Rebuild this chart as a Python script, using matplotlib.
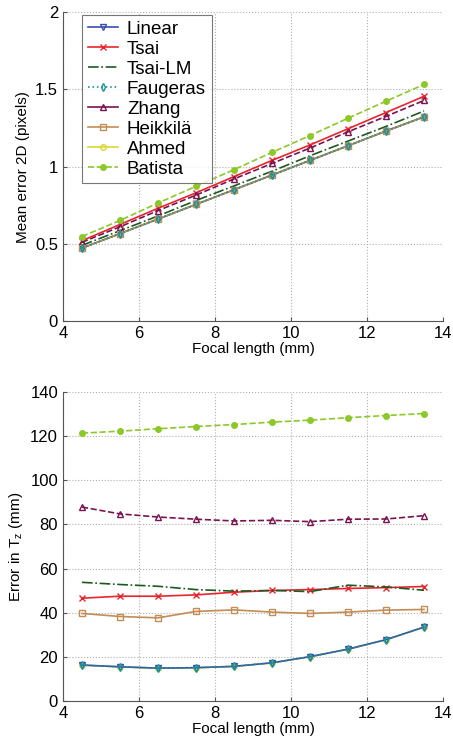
import matplotlib
import matplotlib.pyplot as plt
from matplotlib.lines import Line2D

matplotlib.use("Agg")

plt.rcParams["font.family"] = ["Liberation Sans", "DejaVu Sans"]

focal = [4.5, 5.5, 6.5, 7.5, 8.5, 9.5, 10.5, 11.5, 12.5, 13.5]
methods = ["Linear", "Tsai", "Tsai-LM", "Faugeras", "Zhang", "Heikkilä", "Ahmed", "Batista"]

# mean 2D error (pixels)
err2d_linear = [0.472, 0.566, 0.660, 0.755, 0.850, 0.945, 1.040, 1.135, 1.230, 1.322]
err2d_tsai = [0.520, 0.625, 0.730, 0.830, 0.935, 1.040, 1.140, 1.245, 1.350, 1.455]
err2d_tsailm = [0.490, 0.585, 0.680, 0.780, 0.875, 0.970, 1.070, 1.165, 1.260, 1.360]
err2d_faugeras = [0.472, 0.566, 0.660, 0.755, 0.850, 0.945, 1.040, 1.135, 1.230, 1.322]
err2d_zhang = [0.510, 0.610, 0.715, 0.815, 0.920, 1.020, 1.120, 1.225, 1.325, 1.428]
err2d_heikkila = [0.472, 0.566, 0.660, 0.755, 0.850, 0.945, 1.040, 1.135, 1.230, 1.322]
err2d_ahmed = [0.472, 0.566, 0.660, 0.755, 0.850, 0.945, 1.040, 1.135, 1.230, 1.322]
err2d_batista = [0.547, 0.651, 0.764, 0.872, 0.980, 1.092, 1.201, 1.313, 1.423, 1.532]

# error in Tz (mm)
tz_linear = [16.3, 15.5, 14.9, 15.1, 15.7, 17.3, 20.1, 23.5, 27.8, 33.5]
tz_tsai = [46.6, 47.5, 47.5, 48.1, 49.3, 50.1, 50.5, 51.0, 51.4, 51.9]
tz_tsailm = [53.8, 52.8, 52.0, 50.5, 49.8, 50.1, 49.6, 52.5, 51.7, 50.2]
tz_faugeras = [16.3, 15.5, 14.9, 15.1, 15.7, 17.3, 20.1, 23.5, 27.8, 33.5]
tz_zhang = [87.9, 84.8, 83.4, 82.4, 81.6, 81.9, 81.3, 82.4, 82.5, 84.0]
tz_heikkila = [39.7, 38.3, 37.7, 40.6, 41.3, 40.3, 39.7, 40.3, 41.2, 41.5]
tz_ahmed = [16.3, 15.5, 14.9, 15.1, 15.7, 17.3, 20.1, 23.5, 27.8, 33.5]
tz_batista = [121.4, 122.3, 123.4, 124.4, 125.3, 126.4, 127.3, 128.4, 129.4, 130.3]

top_data = [err2d_linear, err2d_tsai, err2d_tsailm, err2d_faugeras,
            err2d_zhang, err2d_heikkila, err2d_ahmed, err2d_batista]
bottom_data = [tz_linear, tz_tsai, tz_tsailm, tz_faugeras,
               tz_zhang, tz_heikkila, tz_ahmed, tz_batista]

styles = {
    "Linear": dict(color="#3a4db0", ls="-", marker="v", mfc="none", z=3),
    "Tsai": dict(color="#e8242c", ls="-", marker="x", mfc="none", z=3),
    "Tsai-LM": dict(color="#1d5a22", ls="-.", marker=None, mfc="none", z=3),
    "Faugeras": dict(color="#1a9696", ls=":", marker="d", mfc="none", z=4),
    "Zhang": dict(color="#7a1450", ls="--", marker="^", mfc="none", z=3),
    "Heikkilä": dict(color="#c48c55", ls="-", marker="s", mfc="none", z=3),
    "Ahmed": dict(color="#d8d830", ls="-", marker="o", mfc="none", z=2),
    "Batista": dict(color="#8cc828", ls="--", marker="o", mfc="#8cc828", z=3),
}

fig = plt.figure(figsize=(4.53, 7.39), dpi=100)
ax1 = fig.add_axes([0.139, 0.5656, 0.839, 0.418])
ax2 = fig.add_axes([0.139, 0.0514, 0.839, 0.418])


def draw(ax, data):
    for name, vals in zip(methods, data):
        s = styles[name]
        ax.plot(focal, vals, color=s["color"], ls=s["ls"], marker=s["marker"],
                mfc=s["mfc"], mec=s["color"], ms=4, lw=1.2, zorder=s["z"])
    ax.set_xlim(4, 14)
    ax.set_xticks([4, 6, 8, 10, 12, 14])
    ax.grid(True, ls=":", color="#b0b0b0", lw=0.8)
    ax.spines["top"].set_visible(False)
    ax.spines["right"].set_visible(False)
    ax.spines["left"].set_color("#555555")
    ax.spines["bottom"].set_color("#555555")
    ax.tick_params(labelsize=12, direction="in", length=3, colors="#555555",
                   labelcolor="black")
    ax.set_xlabel("Focal length (mm)", fontsize=11, labelpad=1)


draw(ax1, top_data)
ax1.set_ylim(0, 2)
ax1.set_yticks([0, 0.5, 1, 1.5, 2])
ax1.set_yticklabels(["0", "0.5", "1", "1.5", "2"])
ax1.set_ylabel("Mean error 2D (pixels)", fontsize=11)

draw(ax2, bottom_data)
ax2.set_ylim(0, 140)
ax2.set_yticks(range(0, 141, 20))
ax2.set_ylabel("Error in T$_\\mathregular{z}$ (mm)", fontsize=11)

handles = []
for name in methods:
    s = styles[name]
    ls = "-" if name == "Zhang" else s["ls"]
    handles.append(Line2D([], [], color=s["color"], ls=ls, marker=s["marker"],
                          mfc=s["mfc"], mec=s["color"], ms=4, lw=1.2))
leg = ax1.legend(handles, methods, loc="upper left", bbox_to_anchor=(0.05, 0.99),
                 fontsize=13.5, frameon=True, fancybox=False, handlelength=1.6,
                 labelspacing=0.15, borderpad=0.3, handletextpad=0.5,
                 borderaxespad=0)
leg.get_frame().set_edgecolor("#555555")
leg.get_frame().set_linewidth(0.8)

fig.savefig("out.png", dpi=100)
